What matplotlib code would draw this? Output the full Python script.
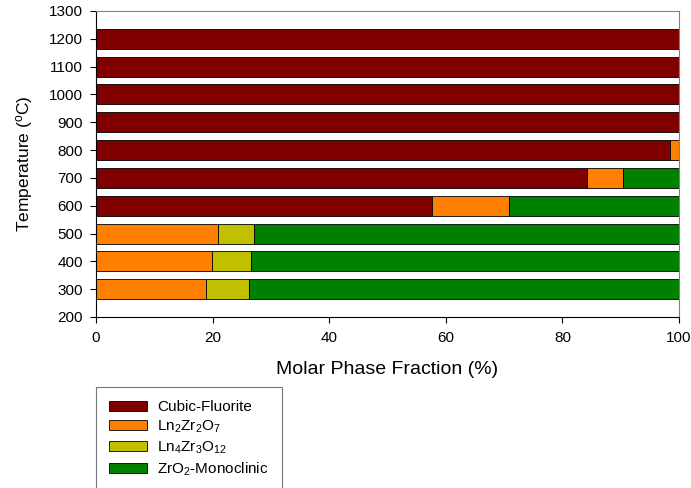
import numpy as np
import matplotlib.pyplot as plt
from matplotlib.patches import Patch

plt.rcParams['font.family'] = ['Liberation Sans', 'DejaVu Sans']

temps = [300, 400, 500, 600, 700, 800, 900, 1000, 1100, 1200]
cubic = [0, 0, 0, 57.6, 84.2, 98.5, 100, 100, 100, 100]
pyro = [18.8, 19.9, 21.0, 13.3, 6.2, 1.5, 0, 0, 0, 0]
delta = [7.4, 6.7, 6.1, 0, 0, 0, 0, 0, 0, 0]
mono = [73.8, 73.4, 72.9, 29.1, 9.6, 0, 0, 0, 0, 0]

labels = ['Cubic-Fluorite', r'Ln$_\mathregular{2}$Zr$_\mathregular{2}$O$_\mathregular{7}$',
          r'Ln$_\mathregular{4}$Zr$_\mathregular{3}$O$_\mathregular{12}$',
          r'ZrO$_\mathregular{2}$-Monoclinic']
colors = ['#800000', '#ff8000', '#c0c000', '#008000']

fig = plt.figure(figsize=(6.91, 4.88), dpi=100)
ax = fig.add_axes([96 / 691, 1 - 317 / 488, 583 / 691, 306 / 488])

left = np.zeros(len(temps))
for vals, c in zip([cubic, pyro, delta, mono], colors):
    ax.barh(temps, vals, left=left, height=72, color=c,
            edgecolor='black', linewidth=0.6)
    left += np.array(vals)

ax.set_xlim(0, 100)
ax.set_ylim(200, 1300)
ax.set_xticks([0, 20, 40, 60, 80, 100])
ax.set_yticks(range(200, 1301, 100))
ax.tick_params(labelsize=11, direction='out', length=4.3, width=0.8)
ax.tick_params(axis='x', pad=5.5)
ax.tick_params(axis='y', pad=5)
for s in ['top', 'right']:
    ax.spines[s].set_color('#808080')
    ax.spines[s].set_linewidth(0.8)
ax.set_xlabel('Molar Phase Fraction (%)', fontsize=14, labelpad=12)
ax.set_ylabel(r'Temperature ($\mathregular{^o}$C)', fontsize=12.5, labelpad=10)

handles = [Patch(facecolor=c, edgecolor='black', linewidth=0.6) for c in colors]
leg = fig.legend(handles, labels, loc='upper left',
                 bbox_to_anchor=(96 / 691, 1 - 387 / 488), fontsize=11,
                 frameon=True, fancybox=False, edgecolor='#555555',
                 handlelength=2.5, handleheight=0.65, handletextpad=0.65,
                 labelspacing=0.28, borderpad=0.85, borderaxespad=0)
leg.get_frame().set_linewidth(0.8)

fig.savefig('out.png', dpi=100)
